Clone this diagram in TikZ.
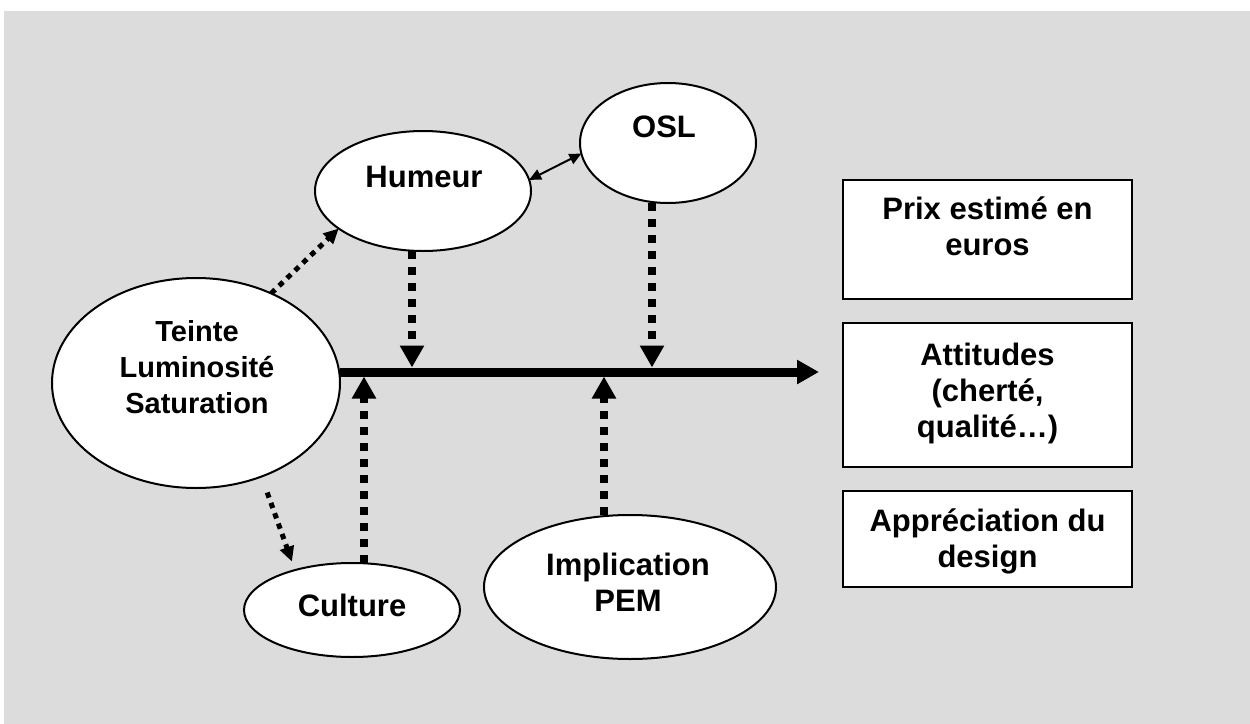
\documentclass[tikz,border=0pt]{standalone}
\usepackage{fontspec}
\setmainfont{Liberation Sans}
\usetikzlibrary{arrows.meta,shapes.geometric}
\definecolor{bg}{RGB}{220,220,220}
\begin{document}
\begin{tikzpicture}[x=0.5pt,y=-0.5pt,
  ell/.style={draw, line width=1pt, fill=white, ellipse, inner sep=0pt, outer sep=0pt},
  box/.style={draw, line width=1.3pt, fill=white, rectangle, inner sep=0pt, outer sep=0pt},
  lbl/.style={font=\bfseries\fontsize{15.5}{18}\selectfont, align=center, inner sep=0pt},
  lblsmall/.style={font=\bfseries\fontsize{14.5}{18}\selectfont, align=center, inner sep=0pt},
  bigdot/.style={line width=3.75pt, dash pattern=on 4pt off 4pt, -{Triangle[length=11pt,width=11.5pt]}},
  smalldot/.style={line width=2.5pt, dash pattern=on 2.75pt off 2.75pt, -{Triangle[length=7.5pt,width=7pt]}},
  twohead/.style={line width=1pt, {Triangle[length=6pt,width=5.5pt]}-{Triangle[length=6pt,width=5.5pt]}},
  mainarr/.style={line width=4.5pt, -{Triangle[length=11pt,width=11.5pt]}}
]
\useasboundingbox (0,0) rectangle (1250,724);
\fill[bg] (4,11) rectangle (1250,724);

% ellipses
\node[ell, minimum width=144pt, minimum height=105pt] (teinte) at (196,383) {};
\node[ell, minimum width=108pt, minimum height=60pt] (humeur) at (423,191) {};
\node[ell, minimum width=88pt, minimum height=60pt] (osl) at (668,143) {};
\node[ell, minimum width=108pt, minimum height=47pt] (culture) at (352,610) {};
\node[ell, minimum width=146pt, minimum height=72pt] (impl) at (630,587) {};

% boxes
\node[box, minimum width=144.5pt, minimum height=59.5pt] (prix) at (987.5,239.5) {};
\node[box, minimum width=144.5pt, minimum height=72pt] (att) at (987.5,395) {};
\node[box, minimum width=144.5pt, minimum height=48pt] (appr) at (987.5,539) {};

% labels
\node[lblsmall] (tteinte) at (197,367) {Teinte\\Luminosité\\Saturation};
\node[lbl] (thumeur) at (424,177) {Humeur};
\node[lbl] (tosl) at (664,127) {OSL};
\node[lbl] (tculture) at (352,605) {Culture};
\node[lbl] (timpl) at (628,582) {Implication\\PEM};
\node[lbl] (tprix) at (987.5,226) {Prix estimé en\\euros};
\node[lbl] (tatt) at (987.5,393) {Attitudes\\(cherté,\\qualité…)};
\node[lbl] (tappr) at (987.5,541) {Appréciation du\\design};

% main arrow
\coordinate (mend) at (819,372);
\draw[mainarr] (teinte.east |- mend) -- (mend);

% points on the main line
\coordinate (hm) at (412,367.5);
\coordinate (om) at (652,367.5);
\coordinate (cm) at (364,376.5);
\coordinate (im) at (604,376.5);

\draw[bigdot] (humeur.south -| hm) -- (hm);
\draw[bigdot] (osl.south -| om) -- (om);
\draw[bigdot] (culture.north -| cm) -- (cm);
\draw[bigdot] (impl.north -| im) -- (im);

% thin dotted
\draw[smalldot] (teinte.50.5) -- (humeur.204);
\draw[smalldot, shorten <=8.5pt, shorten >=4.5pt] (teinte.305.6) -- (culture.145.3);

% double arrow
\draw[twohead] (humeur.6.7) -- (osl.187.7);
\end{tikzpicture}
\end{document}
